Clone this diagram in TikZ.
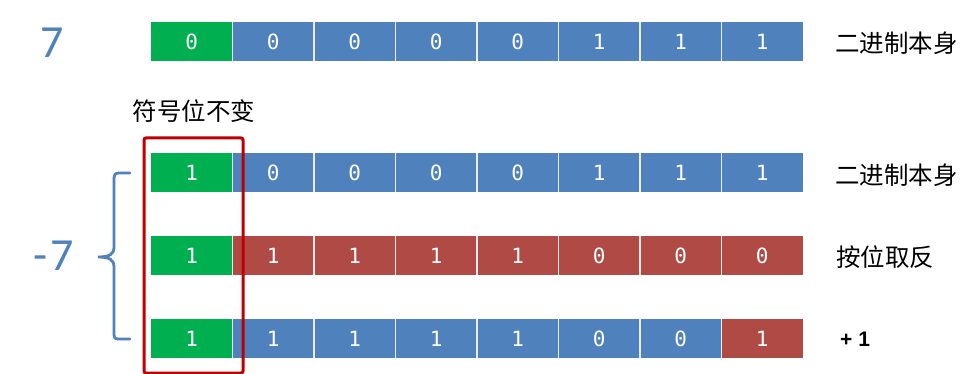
\documentclass[tikz,border=0pt]{standalone}
\usepackage{fontspec}
\setmainfont{Liberation Sans}
\newfontfamily\cjk{Noto Sans CJK SC}
\newfontfamily\monofnt{DejaVu Sans Mono}
\newfontfamily\calfnt{Carlito}
\definecolor{cgreen}{HTML}{00B050}
\definecolor{cblue}{HTML}{4F81BD}
\definecolor{cred}{HTML}{AF4A45}
\definecolor{cbox}{HTML}{C00000}
\tikzset{
  cell/.style={minimum width=81.5pt, minimum height=39pt, inner sep=0pt, outer sep=0pt, text=white, font=\monofnt\fontsize{21}{21}\selectfont},
  lbl/.style={anchor=west, inner sep=0pt, font=\cjk\fontsize{24.5}{24.5}\selectfont},
  bignum/.style={inner sep=0pt, text=cblue, font=\calfnt\fontsize{46}{46}\selectfont},
  sep/.style={draw=white!85!gray, line width=1.2pt}
}
\begin{document}
\begin{tikzpicture}[x=1pt,y=-1pt]
\useasboundingbox (0,0) rectangle (975,374);
\fill[white] (0,0) rectangle (975,374);
\foreach \r/\yc/\bits/\cols in {
  1/41.5/{0,0,0,0,0,1,1,1}/{cgreen,cblue,cblue,cblue,cblue,cblue,cblue,cblue},
  2/173/{1,0,0,0,0,1,1,1}/{cgreen,cblue,cblue,cblue,cblue,cblue,cblue,cblue},
  3/255.5/{1,1,1,1,1,0,0,0}/{cgreen,cred,cred,cred,cred,cred,cred,cred},
  4/338.5/{1,1,1,1,1,0,0,1}/{cgreen,cblue,cblue,cblue,cblue,cblue,cblue,cred}}{
  \foreach \b [count=\i] in \bits {
    \foreach \c [count=\j] in \cols {
      \ifnum\i=\j
        \node[cell, fill=\c] (r\r c\i) at ({151+81.5*\i-40.75},\yc) {\b};
      \fi
    }
  }
  \foreach \i in {1,...,7} {
    \draw[sep] (r\r c\i.north east) -- (r\r c\i.south east);
  }
}
% labels
\node[lbl] (t1) at (835,43) {二进制本身};
\node[lbl] (t2) at (835,175) {二进制本身};
\node[lbl] (t3) at (836,257) {按位取反};
\node[anchor=west, inner sep=0pt, font=\bfseries\fontsize{21}{21}\selectfont] (t4) at (840,339) {+ 1};
\node[lbl, anchor=center] (sign) at (194,111) {符号位不变};
% numbers
\node[bignum] (n7) at (52,43) {7};
\node[bignum] (m7) at (54,256) {-\kern3pt 7};
% red box
\node[draw=cbox, line width=3pt, rounded corners=2pt, minimum width=99pt, minimum height=235pt, inner sep=0pt] (box) at (193.5,255.5) {};
% brace
\coordinate (bt) at (130,173);
\coordinate (bb) at (130,339);
\coordinate (btip) at (98,257);
\draw[cblue, line width=2.8pt, line cap=round]
  (bt) -- (119,173) .. controls (115,173) and (114,175) .. (114,179)
  -- (114,247) .. controls (114,254) and (110,257) .. (btip)
  .. controls (110,257) and (114,260) .. (114,267)
  -- (114,334) .. controls (114,338) and (115,339) .. (119,339) -- (bb);
\end{tikzpicture}
\end{document}
